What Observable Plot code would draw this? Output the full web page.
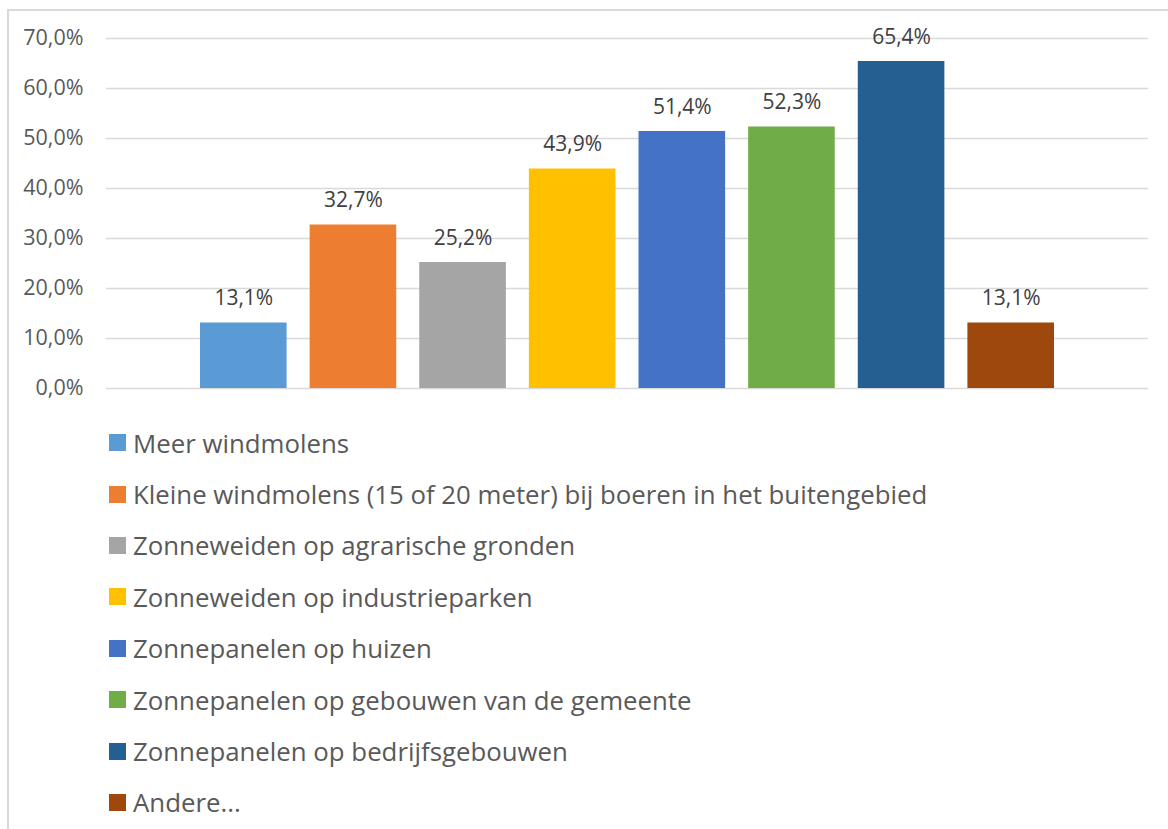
<!DOCTYPE html>
<html>
<head>
<meta charset="utf-8">
<script src="https://cdn.jsdelivr.net/npm/d3@7"></script>
<script src="https://cdn.jsdelivr.net/npm/@observablehq/plot@0.6"></script>
<style>
  html, body { margin: 0; padding: 0; background: #fff; overflow: hidden; }
  body { width: 1168px; height: 829px; position: relative; font-family: "Open Sans", sans-serif; }
  #frame { position: absolute; left: 7px; top: 9px; width: 1200px; height: 900px;
           border-left: 2px solid #d9d9d9; border-top: 2px solid #d9d9d9; box-sizing: border-box; }
  #chart { position: absolute; left: 0; top: 0; }
  #legend { position: absolute; left: 109px; top: 417px; }
  .row { height: 51.4px; display: flex; align-items: center; font-size: 25.8px; color: #595959; white-space: nowrap; }
  .sw { width: 17px; height: 17px; margin-right: 7px; flex: none; }
</style>
</head>
<body>
<div id="frame"></div>
<div id="chart"></div>
<div id="legend"></div>
<script>
const categories = [
  "Meer windmolens",
  "Kleine windmolens (15 of 20 meter) bij boeren in het buitengebied",
  "Zonneweiden op agrarische gronden",
  "Zonneweiden op industrieparken",
  "Zonnepanelen op huizen",
  "Zonnepanelen op gebouwen van de gemeente",
  "Zonnepanelen op bedrijfsgebouwen",
  "Andere..."
];
const values = [13.1, 32.7, 25.2, 43.9, 51.4, 52.3, 65.4, 13.1];
const colors = ["#5b9bd5", "#ed7d31", "#a5a5a5", "#ffc000", "#4472c4", "#70ad47", "#255e91", "#9e480e"];
const yTicks = [0, 10, 20, 30, 40, 50, 60, 70];

const fmt = d => d.toFixed(1).replace(".", ",") + "%";
const data = categories.map((c, i) => ({category: c, value: values[i]}));

const chart = Plot.plot({
  width: 1168,
  height: 410,
  marginLeft: 106,
  marginRight: 20,
  marginTop: 38,
  marginBottom: 22,
  style: {fontFamily: "Open Sans, sans-serif", fontSize: "21px", background: "transparent"},
  x: {domain: categories, axis: null, paddingInner: 0.21, paddingOuter: 0, insetLeft: 94, insetRight: 94, round: false},
  y: {domain: [0, 70], ticks: yTicks, label: null},
  color: {domain: categories, range: colors},
  marks: [
    Plot.gridY(yTicks, {stroke: "#d9d9d9", strokeOpacity: 1, strokeWidth: 1.5}),
    Plot.axisY(yTicks, {tickSize: 0, tickPadding: 23, tickFormat: fmt, fontSize: 21.5, fill: "#595959", label: null}),
    Plot.barY(data, {x: "category", y: "value", fill: "category"}),
    Plot.text(data, {x: "category", y: "value", text: d => fmt(d.value), lineAnchor: "bottom", dy: -18, fontSize: 21, fill: "#404040"})
  ]
});
document.getElementById("chart").appendChild(chart);

const legend = document.getElementById("legend");
categories.forEach((c, i) => {
  const row = document.createElement("div");
  row.className = "row";
  const sw = document.createElement("span");
  sw.className = "sw";
  sw.style.background = colors[i];
  const t = document.createElement("span");
  t.textContent = c;
  row.appendChild(sw);
  row.appendChild(t);
  legend.appendChild(row);
});
</script>
</body>
</html>
